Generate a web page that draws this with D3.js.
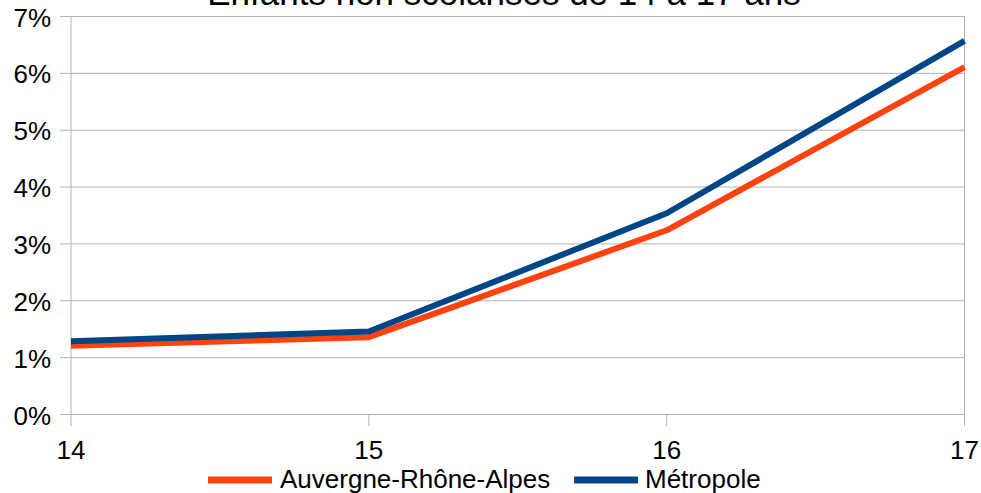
<!DOCTYPE html>
<html><head><meta charset="utf-8">
<script src="https://cdn.jsdelivr.net/npm/d3@7"></script>
<style>body{margin:0;background:#fff;} text{font-family:"Liberation Sans",Arial,sans-serif;fill:#000;}</style>
</head><body>
<svg id="c" width="981" height="493"></svg>
<script>
const title = "Enfants non scolarisés de 14 à 17 ans";
const ages = [14, 15, 16, 17];
const auvergne = [1.21, 1.36, 3.24, 6.11];
const metropole = [1.29, 1.46, 3.54, 6.57];
const yTicks = [0, 1, 2, 3, 4, 5, 6, 7];
const seriesNames = ["Auvergne-Rhône-Alpes", "Métropole"];
const colors = ["#ff420e", "#004586"];

const svg = d3.select("#c");
const x = d3.scaleLinear().domain([14, 17]).range([71, 964.5]);
const y = d3.scaleLinear().domain([0, 7]).range([414.5, 16.5]);

// gridlines
svg.append("g").selectAll("line").data(yTicks).join("line")
  .attr("x1", 60).attr("x2", 964.5).attr("y1", d => y(d)).attr("y2", d => y(d))
  .attr("stroke", "#b3b3b3").attr("stroke-width", 1);
// vertical axis lines and x ticks
svg.append("g").selectAll("line").data(ages).join("line")
  .attr("x1", d => x(d)).attr("x2", d => x(d))
  .attr("y1", d => (d === 14 || d === 17) ? 16.5 : 414.5).attr("y2", 426)
  .attr("stroke", "#b3b3b3").attr("stroke-width", 1);

// y labels
svg.append("g").selectAll("text").data(yTicks).join("text")
  .attr("x", 51).attr("y", d => y(d) + 10).attr("text-anchor", "end")
  .attr("font-size", 26).text(d => d + "%");
// x labels
svg.append("g").selectAll("text").data(ages).join("text")
  .attr("x", d => x(d)).attr("y", 459).attr("text-anchor", "middle")
  .attr("font-size", 26).text(d => d);

const line = d3.line().x((d, i) => x(ages[i])).y(d => y(d));
[auvergne, metropole].forEach((s, i) => {
  svg.append("path").attr("d", line(s)).attr("fill", "none")
    .attr("stroke", colors[i]).attr("stroke-width", 6).attr("stroke-linejoin", "round");
});

// title
svg.append("text").attr("x", 504).attr("y", 5).attr("text-anchor", "middle")
  .attr("font-size", 35).text(title);

// legend
const leg = [{x: 208, tx: 280}, {x: 574, tx: 645}];
seriesNames.forEach((n, i) => {
  svg.append("line").attr("x1", leg[i].x).attr("x2", leg[i].x + 64)
    .attr("y1", 480).attr("y2", 480).attr("stroke", colors[i]).attr("stroke-width", 7);
  svg.append("text").attr("x", leg[i].tx).attr("y", 488).attr("font-size", 26).text(n);
});
</script>
</body></html>
